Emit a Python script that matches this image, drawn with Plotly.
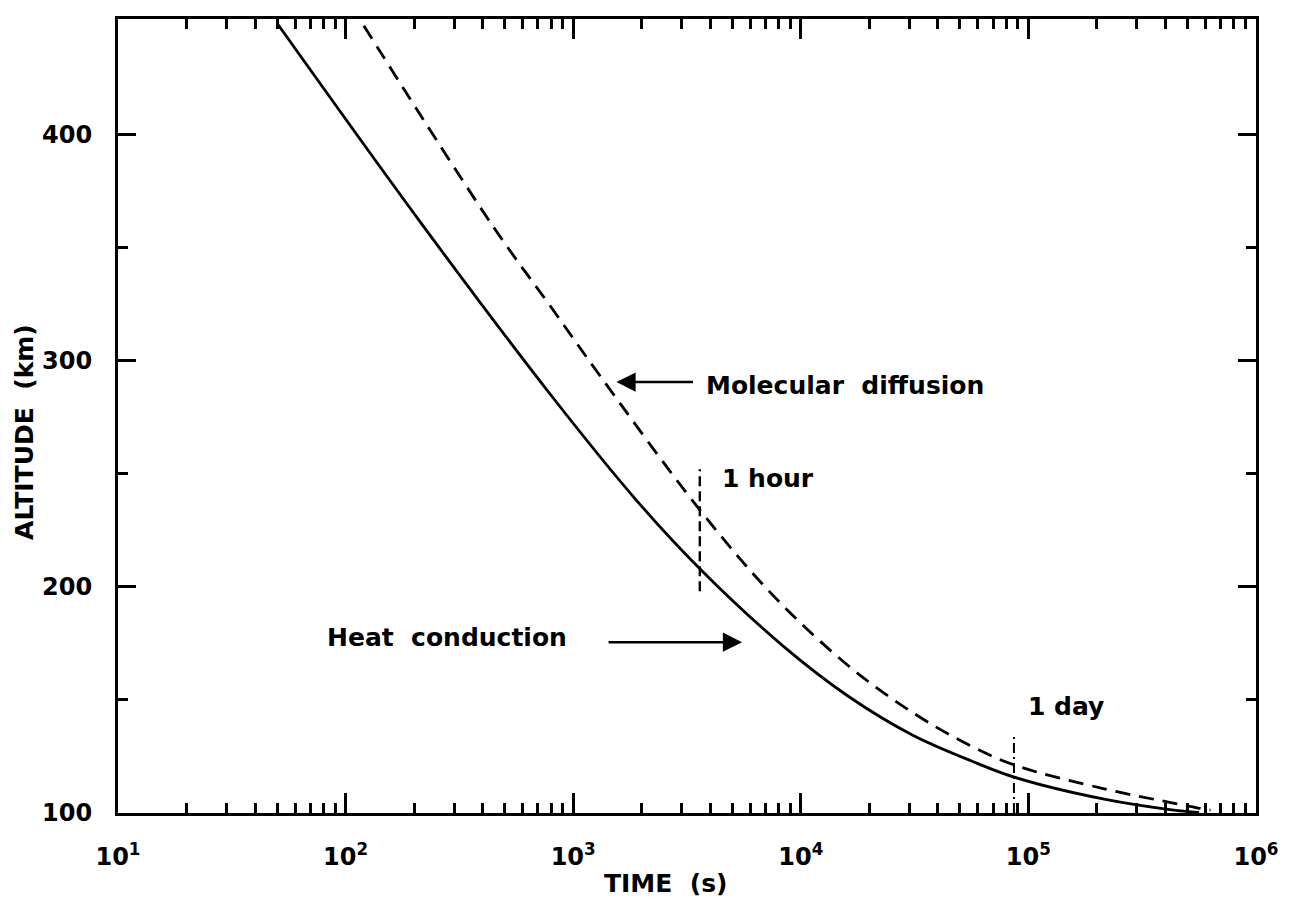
import plotly.graph_objects as go

# ---- data ----
heat_time = [50.1, 213.8, 794.3, 1905, 3600, 8318, 16220, 30900, 56230, 88100, 215300, 426600, 562300]
heat_alt = [449, 361, 285, 238, 208, 174, 151.5, 134.5, 123, 115.6, 106.1, 101.4, 100.3]

diff_time = [120.2, 446.7, 794.3, 1318, 3600, 7586, 16220, 30900, 56230, 88100, 215300, 426600, 556000, 631000]
diff_alt = [448, 359, 324, 293, 234, 196, 165, 144.5, 129.5, 121, 110.7, 104.5, 102.2, 101.3]

marker_time = [3600, 86400]
marker_label = ["1 hour", "1 day"]
hour_span = [198, 252]
day_span = [100, 135]

x_tickvals = [10, 100, 1000, 10000, 100000, 1000000]
x_ticktext = ["10<sup>1</sup>", "10<sup>2</sup>", "10<sup>3</sup>", "10<sup>4</sup>", "10<sup>5</sup>", "10<sup>6</sup>"]
x_minor = [m * d for d in [10, 100, 1000, 10000, 100000] for m in range(2, 10)]
y_tickvals = [100, 200, 300, 400]
y_ticktext = ["100", "200", "300", "400"]
y_minor = [150, 250, 350]

FONT = "DejaVu Sans"
TXT = dict(size=25, family=FONT, color="black", weight="bold")

fig = go.Figure()
fig.add_trace(go.Scatter(x=heat_time, y=heat_alt, mode="lines",
                         line=dict(color="black", width=2.8, shape="spline", smoothing=1.0),
                         name="Heat conduction", showlegend=False))
fig.add_trace(go.Scatter(x=diff_time, y=diff_alt, mode="lines",
                         line=dict(color="black", width=2.8, dash="15px,9px", shape="spline", smoothing=1.0),
                         name="Molecular diffusion", showlegend=False))
fig.add_trace(go.Scatter(x=[marker_time[0]] * 2, y=hour_span, mode="lines",
                         line=dict(color="black", width=2.4, dash="10px,5px"), showlegend=False))
fig.add_trace(go.Scatter(x=[marker_time[1]] * 2, y=day_span, mode="lines",
                         line=dict(color="black", width=2, dash="10px,4px,2px,4px"), showlegend=False))

ann = []
ann.append(dict(x=3.645, y=248, xref="x", yref="y", text=marker_label[0], showarrow=False,
                xanchor="left", yanchor="middle", font=TXT))
ann.append(dict(x=4.99, y=147, xref="x", yref="y", text=marker_label[1], showarrow=False,
                xanchor="left", yanchor="middle", font=TXT))
ann.append(dict(x=3.576, y=289, xref="x", yref="y", text="Molecular  diffusion", showarrow=False,
                xanchor="left", yanchor="middle", font=TXT))
ann.append(dict(x=1.909, y=177.5, xref="x", yref="y", text="Heat  conduction", showarrow=False,
                xanchor="left", yanchor="middle", font=TXT))
ann.append(dict(x=3.19, y=290.5, xref="x", yref="y", text="", showarrow=True, ax=78, ay=0,
                arrowhead=2, arrowsize=1.6, arrowwidth=2.4, arrowcolor="black", standoff=0))
ann.append(dict(x=3.742, y=175.5, xref="x", yref="y", text="", showarrow=True, ax=-135, ay=0,
                arrowhead=2, arrowsize=1.6, arrowwidth=2.4, arrowcolor="black", standoff=0))
ann.append(dict(x=0.4807, y=0, xref="paper", yref="paper", yshift=-70, text="TIME  (s)", showarrow=False,
                xanchor="center", yanchor="middle", font=TXT))
ann.append(dict(x=0, y=0.48, xref="paper", yref="paper", xshift=-93, text="ALTITUDE  (km)", showarrow=False,
                textangle=-90, xanchor="center", yanchor="middle", font=TXT))

fig.update_layout(
    width=1284, height=893,
    margin=dict(l=110, r=36, t=8, b=88),
    paper_bgcolor="white", plot_bgcolor="white",
    annotations=ann,
    showlegend=False,
)
tickfont = dict(size=24, family=FONT, color="black", weight="bold")
fig.update_xaxes(type="log", range=[1, 6], showgrid=False, zeroline=False,
                 showline=True, linecolor="black", linewidth=3, mirror="ticks",
                 tickmode="array", tickvals=x_tickvals, ticktext=x_ticktext,
                 ticks="inside", ticklen=20, tickwidth=2.5, tickcolor="black",
                 ticklabelstandoff=20, tickfont=tickfont,
                 minor=dict(tickmode="array", tickvals=x_minor, ticks="inside", ticklen=10,
                            tickwidth=2.5, tickcolor="black", showgrid=False))
fig.update_yaxes(range=[100, 451], showgrid=False, zeroline=False,
                 showline=True, linecolor="black", linewidth=3, mirror="ticks",
                 tickmode="array", tickvals=y_tickvals, ticktext=y_ticktext,
                 ticks="inside", ticklen=18, tickwidth=2.5, tickcolor="black",
                 ticklabelstandoff=18, tickfont=tickfont,
                 minor=dict(tickmode="array", tickvals=y_minor, ticks="inside", ticklen=10,
                            tickwidth=2.5, tickcolor="black", showgrid=False))

fig.write_html("out.html")
